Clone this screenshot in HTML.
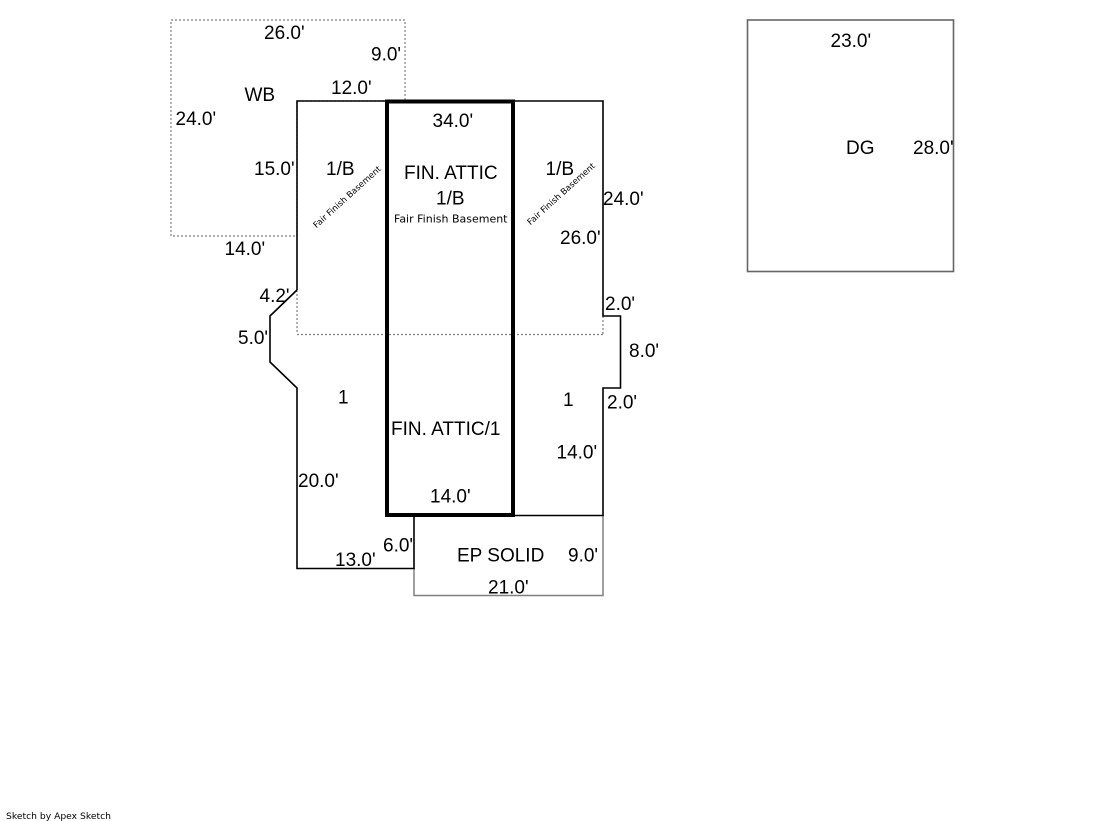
<!DOCTYPE html>
<html><head><meta charset="utf-8"><style>
html,body{margin:0;padding:0;background:#fff;}
svg{display:block;}
.t text{font-family:"Liberation Sans",Arial,sans-serif;font-size:19px;fill:#000;}
text.s{font-family:"DejaVu Sans",Verdana,sans-serif;font-size:11px;}
text.r{font-family:"DejaVu Sans",Verdana,sans-serif;font-size:8.5px;}
text.f{font-family:"DejaVu Sans",Verdana,sans-serif;font-size:9.2px;}
</style></head><body>
<svg width="1119" height="821" viewBox="0 0 1119 821" xmlns="http://www.w3.org/2000/svg">
<polygon points="171,20 405,20 405,101 297,101 297,236 171,236" fill="none" stroke="#808080" stroke-width="1.2" stroke-dasharray="2,2"/>
<line x1="297" y1="334.5" x2="603" y2="334.5" stroke="#808080" stroke-width="1.2" stroke-dasharray="2,2"/>
<line x1="297" y1="290" x2="297" y2="334" stroke="#808080" stroke-width="1.2" stroke-dasharray="2,2"/>
<line x1="603" y1="316" x2="603" y2="334" stroke="#808080" stroke-width="1.2" stroke-dasharray="2,2"/>
<polyline points="414,568 414,595.5 603,595.5 603,515" fill="none" stroke="#808080" stroke-width="1.5"/>
<polyline points="297,290 297,101 603,101 603,316 620.5,316 620.5,388 603,388 603,515.5 414,515.5 414,568.5 297,568.5 297,388 270,362 270,316 297,290" fill="none" stroke="#000" stroke-width="1.6"/>
<rect x="387" y="101.5" width="126" height="413.5" fill="none" stroke="#000" stroke-width="4"/>
<rect x="747.5" y="20" width="206" height="251.5" fill="none" stroke="#666" stroke-width="1.6"/>

<g class="t" font-family="Liberation Sans, Arial, sans-serif" font-size="19">
<text x="264" y="39">26.0'</text>
<text x="371" y="60.5">9.0'</text>
<text x="331" y="94">12.0'</text>
<text x="244.5" y="101">WB</text>
<text x="175.5" y="125">24.0'</text>
<text x="254" y="175">15.0'</text>
<text x="326" y="175">1/B</text>
<text x="224.5" y="255">14.0'</text>
<text x="432.5" y="127">34.0'</text>
<text x="404" y="179">FIN. ATTIC</text>
<text x="436" y="204.5">1/B</text>
<text x="545.5" y="175">1/B</text>
<text x="603" y="205">24.0'</text>
<text x="560" y="244">26.0'</text>
<text x="605" y="310">2.0'</text>
<text x="259.5" y="302">4.2'</text>
<text x="238" y="344">5.0'</text>
<text x="338" y="403.5">1</text>
<text x="629" y="357">8.0'</text>
<text x="563" y="406">1</text>
<text x="607" y="408.5">2.0'</text>
<text x="391" y="435">FIN. ATTIC/1</text>
<text x="556.5" y="458.5">14.0'</text>
<text x="298" y="487">20.0'</text>
<text x="430" y="502.5">14.0'</text>
<text x="383" y="551.5">6.0'</text>
<text x="335" y="566">13.0'</text>
<text x="457" y="561.5">EP SOLID</text>
<text x="568" y="561.5">9.0'</text>
<text x="488" y="593.5">21.0'</text>
<text x="830.5" y="47">23.0'</text>
<text x="846" y="154">DG</text>
<text x="913" y="154">28.0'</text>
</g>
<text class="s" x="394" y="222.5" fill="#000">Fair Finish Basement</text>
<text class="r" x="0" y="0" text-anchor="middle" fill="#000" transform="translate(349,199) rotate(-42)">Fair Finish Basement</text>
<text class="r" x="0" y="0" text-anchor="middle" fill="#000" transform="translate(563,196) rotate(-42)">Fair Finish Basement</text>
<text class="f" x="6" y="819" fill="#000">Sketch by Apex Sketch</text>
</svg>
</body></html>
